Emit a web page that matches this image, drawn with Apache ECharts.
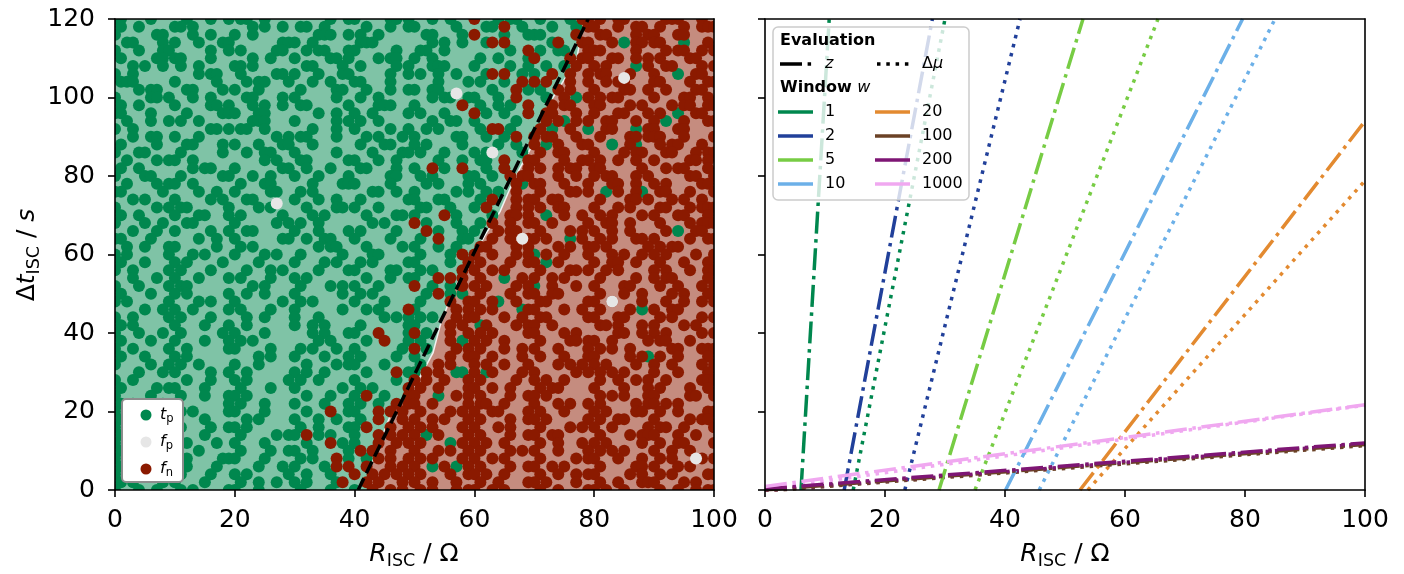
<!DOCTYPE html>
<html>
<head>
<meta charset="utf-8">
<script src="https://cdn.jsdelivr.net/npm/echarts@6/dist/echarts.min.js"></script>
<style>
  html, body { margin: 0; padding: 0; background: #fff; }
  #chart { width: 1404px; height: 574px; }
</style>
</head>
<body>
<div id="chart"></div>
<script>
// ---- left panel: classified samples on the R / dt lattice ----
// one string per dt row (120 at top, step 2), groups of 10 columns (R = 0..100)
// g = t_p, r = f_n, . = empty
const scatterRows = [
  "gg....g... ..g...g..g .gg..g.... ......g..g g.....gg.g ...g..g... r...g.gg.. .g....g.rr .r..rr.... ..rrr...r. .",
  ".g..g..... gg.g...... ...g.g..g. .gg..g.... ..g...g..g g......g.. ..gg.r..g. ...g...g.r r...r..rr. .r...r..rr r",
  "g......gg. ...g..g... g..g...... ....ggg..g .g..g..... ..gg....g. r....g...g gg.....r.. .rr....r.r r...rr.... .",
  "..gg....g. g...g...gg ........gg g..g...... .ggg...... ...g.g..g. ..gr.r.... ...gr...rr ...r.g.rr. rr...g...r .",
  "g...g...gg ......g..g .g.....gg. ..g.gg...g g......g.. .gg..g.... ......g..r .g..gg...r rr.....r.. ..r.rr..r. r",
  ".g.....gg. gg....g... ...g..g... g.....gg.g ....g.gg.. g..g...... .g..g....g r.....r.rr ...rr..r.r .r....rr.. .",
  "...g.g..g. .g..g..... gg.g...... ..gg....g. .g.....g.g ...ggg.... g.....g..g ..g..g.r.. r.r....g.r ..rr....r. r",
  "g..g...... ....g.gg.. .g.....gg. g...g...gg ......g..g .g..g..g.. ..gr.r..g. g..r..r..r .rr...r... r...g..rr. .",
  ".ggg...... g......g.. ..g.gg...g ...g..g... gg....g... ....g....g .g...g..r. r.r...r..r ..r.rr.... rr....r..r r",
  "....g.gg.. ..gg....g. g...g..... .g.....gg. ..g...g..g g..gg..... ...g...r.g .g..r.r... r....rr..r ..r....rr. .",
  "g.....gg.g ...g..g... ..gg....g. g......g.. .g..g..... ...g.gg..g g...g..r.. ..g..r.g.r .r.rr..... r....rr..r .",
  ".g..g..... g.....gg.g ...g.g..g. .gg......g ....ggg... g.......r. .g..g.g..r ...r.rr... rr....r.r. ...r.rr..r r",
  "gg....g... ..g.....gg g...gg.... ....g..g.. g..g.....g .g...g.... r.g..g...r ..rr...r.. r...rr...r .r..g..rr. .",
  "..g...g..g .g..g..... ...ggg.... g......g.g .g..g..... ...g..gg.. g......g.. ..r.rg.r.r ..rr...r.. r.g..r...r r",
  "g..g...... ......gg.g .gg..g.... ...g...g.. g.....g..g ..g.g..... .g.rr.g... .r.g..r..g ..rr...g.r r...rr.... .",
  "...g..gg.. g...g..... .......g.g .gg....g.. ..g.g...g. g......gg. ..g..g.r.. r.rr...r.. .r....rr.r rr...r.... r",
  ".g.....g.. ..gg....g. g...g...gg ...g...... .g...gg... g.g.....g. ....g..g.. r.g.r...rr ...g..rg.. .r.rr...r. .",
  "g...gg.... .g......g. ..g..gg... g......g.. ...g....gg .g...g.... g.g.....g. .r..rr.... r....r.rr. ..rr...r.r r",
  "..g....g.g g..g...... .....g.g.. .gg......g g...g..g.. ....g...g. .gg..r...r r....r..rr .r..r..r.. r.....rr.r .",
  ".g..g..... ...g.gg... g.......gg ..g...g... .gg....g.. g..r.g..r. ..g..r...r .r..r.rr.. rr......r. ..r.rr...r .",
  "g....gg... .g......gg ...g..g... g...g....g ......gg.. .g.g.....g g..g..r.rr ....r..r.. r.rr...r.r ......rr.. r",
  "..g....g.g g..g...... .g...gg... ...g....gg g.....g... ..g.g....g .g.....rg. rr...r...r ...rr..r.. r.r.....rr .",
  "gg......g. ....g..g.. g.....gg.. .g.g...... ...gg..g.. g......g.g ..g.g..r.. .r....rr.r ..g.r..rg. .rr...r... r",
  "...g.g.... g.....g.g. ..gg...... g...g..g.. .g.......g g...gg.... .g.r...r.r r..rr..... .r....rr.r ...r.r..r. .",
  "g......g.g .gg......g ....g.g... ..g....gg. g...g..... .gg...g... g.r....r.r .r..rr.... r...r.r... .rr...r.rr r",
  ".g..g..... g...gg...g .g......g. ...g.g.... ..g....gg. g....r.g.. ...g..rr.r ..g..r..r. .r.r....r. r...rr...r .",
  "g....g..g. ..gg...... g......g.g .g..g..... ...g.g.... r.g....g.. .g.r..r..r r..r.....r ..rr..r... .r....r.rr r",
  "...g...g.. g.....g..g ..gg...... g...g....g .g.....g.. ..r.g...g. g...r.rr.. .r....r.r. r..r..r... ..r.g..rr. .",
  "gg....g... ....g..g.. g.......gg ..g..gg... g.....g... .g..r...gg ...r..r..r r.r...g.r. .r.r...rr. r.....r..r r",
  "..g..g...g g......g.. .g.g...... ....g.gg.. ..g.....g. g...g..g.. .rr....r.r ....r.r..r r.r......r .r.rr..... .",
  "g.g......g ...g.g.... g....g.g.. .g......g. ...gg..... .g....g.r. r..r...r.r g.r..r...r ...r.r..r. r.r....r.. r",
  ".g...g.... g.g.....g. ....g..... g....g.g.. .g.g.....g g.....g..r .r....r..r r.g.r..... r..rr..r.. .r...r...r .",
  "g..g.....g .g....g... ..g...g.g. ....g....g g.....gg.. .g.g....r. r..r.r.... .r....rr.r ..r.r..... r.r...r..r r",
  "...g...g.. g...g....g .g....g... g.g....... ..g...g..g g...r.r.r. .r...g..r. r..r.r.... .r.....r.. r.rr.....r .",
  "g...g....g .gg....... ...g.g.... .g....g.g. g...g..... r..g..g.r. r.r....r.r g..r...r.. r....rr... .r..r...r. r",
  ".g....g... g.g......g ..g..g.... g.......g. .g.g...... ..g.r.g.g. .r....r..r r..rr..... .r...r..r. ...r.r...r .",
  "g.g......g ....g.g... g.......g. .g.g...... g....g.... .g....r..r r..rg..r.. .rr......r r..r....r. ..r..r..r. r",
  ".....g..g. g..g.....g .g....g... g.......g. ..g.g....r g......r.r .r.r....gr r....r..r. .r....r.g. r..rr..... .",
  "g..g.....g .g....g... ..g..g.... g...g..... .....g.g.g .g.g...r.r r....r..r. .rr......r r...rr.... .r.r....r. r",
  ".g.g...... g....g...g ..g....... g..g.g.... .g.......g g.....r.r. .gr....r.r r..r...... .rr.r...r. r....r.r.. .",
  "g...g...g. .g......g. g....g.... ...g.g...g g...r....g r.g...r..r .r.r.....r r....r.r.. ....rr..r. r.r.....r. r",
  ".g....g... g....g...g .g.g...... ....g.g... ..g..r...g .g....r.g. r.r..r.... .r....rr.r r..r.....r .rr...r... .",
  "g..g.....g ..g......g g.....g... .g.g...g.. g.......g. r.g....r.r .r...r..r. r...r....r .r.r..r... ...rr...rr r",
  ".g...g.... g.g....... ....g.g... g....g...g .g.....g.. g.....r..r r..r....r. .r...r...r r.....r.rg .r..r....r .",
  "g.....g..g .g..g..... g...g..... ..g....g.g g....g.... .g..r.r... r.r..r...r ....r.r.r. r.r....r.. r..r....r. r",
  "....g...g. g.....g..g ..g....... g.g..g.... ..g....r.g g.r.r..gg. r.gr....r. r......r.r .r.r.r.... r...r....r .",
  "g..g...... ..g...g... g.g......g .g..g..... g......g.. r.r..r...r .r.....r.. r.r..r.... .r..r..r.r ..r.....rr r",
  ".g.....g.g g....g.... .g....g... g.......g. .g.g.....r .r..r....r r..r..r... .r.rr..... r....r...r .r....r..r .",
  "g.....g... .g...g...g g.g....... ..g...g... g.r..g...r r...g..r.r .r....r..r r.r....... .r.r.r...r r.....rr.. r",
  ".g.g....g. g........g .g...g.... g....g...g .g..g..r.r r..r.....r .rr..r.... r...r.r..r .r.....r.r r.r.r..... .",
  "g...g..... .g.g.....g g....g.... ..g...r..g g...r.r.r. .r....r.r. r..rr....r .r...r.... r.r....rr. .r..r....r r",
  ".g....g..g g....g.... ..g.g..... g...g..g.. .g..r...r. r..r.r...r .r....r..r r.r......r .r..rr.... r.....r.rr .",
  "g..g...... .g....g..g g.g....... .g..g....g g.r...r..r .r.r....r. r...r.r... .r....r.r. r..r.....r .rr..r.... r",
  ".g.g.....g g....g.... .g.....g.g g.r.g.g... g...r.r.r. r.g.r....r .r....r..r r..rr..... .r....r.rr r...r..r.. .",
  "g...g..... .gg....g.. g....g.... ..g...r.g. g...r..r.r .r....g.r. r.r..r.... .r..r...r. r.r.....r. .r..rr.... r",
  ".g.g....g. g...g..... .g....g..g g..g.....g .r.r..r... r...r.r..r .r....r.r. r...r....r .r.r.r.... r..r..r... .",
  "g.g...g... ..g.....gg g....g.... .g.g...r.g ..g.r.r..r .r.r....r. r..r.r.... .r.....r.r r...r...r. .r.r....r. r",
  ".g..g....g g.g....g.. ....g...g. g....g.r.r ..r...r.r. r..g.r.g.r .r....r..r r..r.r.... .r.....rr. r...r.r... .",
  "g..g...g.. .g....g... g.g......g ..g...g... r..r.r.r.r .r....r..r r.r..r.... .r..r..r.r r.....r.r. .r.r.....r r",
  ".g.g....g. g....g.... .g..g..g.. g.g....gr. ..r.r...r. r..r...r.. .r..r....r r.r....r.. .r..r...rr r....r.r.. .",
  "g...g..g.. .g.g.....g g...g..... .g....g... g..r..r.r. .r.r...r.r r..r.r.... .r..r....r r.r..r.... .r..r..r.r r"
];
// false positives
const fpPoints = [[27, 73], [57, 101], [63, 86], [68, 64], [83, 48], [85, 105], [97, 8]];
// decision region boundary (R, dt)
const boundaryR = [42.3, 42.6, 46.5, 48.7, 51, 53.1, 54.3, 56.5, 60.1, 61.8, 64.3, 66, 67.6, 70.1, 71.5, 72.3, 75.6, 77.1, 78.3];
const boundaryT = [0, 6, 21, 23, 29, 35, 42, 51, 60, 65, 71, 77, 82, 89, 95, 98, 106, 110, 120];
// dashed z threshold line
const thresholdLine = [[40.6, 0], [79, 120]];

// ---- right panel: threshold lines per window ----
const windows = ['1', '2', '5', '10', '20', '100', '200', '1000'];
const windowColors = ['#00874e', '#21409a', '#77cc44', '#6cb0e8', '#e38a30', '#6b4226', '#7e1674', '#f0a8f0'];
const zLines = [
  [[6.0, 0], [10.7, 120]], [[13.2, 0], [27.9, 120]], [[29.0, 0], [53.0, 120]], [[40.1, 0], [79.6, 120]],
  [[52.5, 0], [100, 94]], [[0, 0], [100, 11.6]], [[0, 0.3], [100, 12.0]], [[0, 0.9], [100, 21.7]]
];
const muLines = [
  [[14.7, 0], [30.0, 120]], [[23.3, 0], [42.5, 120]], [[35.0, 0], [65.5, 120]], [[45.7, 0], [85.0, 120]],
  [[53.8, 0], [100, 78.8]], [[0, -0.3], [100, 11.3]], [[0, -0.1], [100, 11.8]], [[0, 0.1], [100, 21.6]]
];

const tpColor = '#00874e', fpColor = '#e6e6e6', fnColor = '#8b1a00';
const FONT = 'DejaVu Sans';

const tpPoints = [], fnPoints = [];
scatterRows.forEach((row, i) => {
  const t = 120 - 2 * i;
  row.split(' ').forEach((grp, gi) => {
    for (let k = 0; k < Math.min(grp.length, 10); k++) {
      const r = gi * 10 + k;
      if (grp[k] === 'g') tpPoints.push([r, t]);
      else if (grp[k] === 'r') fnPoints.push([r, t]);
    }
  });
});

const chart = echarts.init(document.getElementById('chart'));

function xAx(grid, pos, labels) {
  return {
    gridIndex: grid, type: 'value', min: 0, max: 100, interval: 20, position: pos, z: 10,
    axisLine: { show: true, onZero: false, lineStyle: { color: '#000', width: 1.6 } },
    axisTick: { show: labels, length: 7, lineStyle: { color: '#000', width: 1.6 } },
    axisLabel: { show: labels, fontFamily: FONT, fontSize: 25, color: '#000', margin: 18 },
    splitLine: { show: false }
  };
}
function yAx(grid, pos, ticks, labels) {
  return {
    gridIndex: grid, type: 'value', min: 0, max: 120, interval: 20, position: pos, z: 10,
    axisLine: { show: true, onZero: false, lineStyle: { color: '#000', width: 1.6 } },
    axisTick: { show: ticks, length: 7, lineStyle: { color: '#000', width: 1.6 } },
    axisLabel: { show: labels, fontFamily: FONT, fontSize: 25, color: '#000', margin: 20 },
    splitLine: { show: false }
  };
}

// axes: x 0 = left bottom, 1 = left top, 2 = right bottom, 3 = right top
//       y 0 = left left,   1 = right left, 2 = left right, 3 = right right
const series = [];
series.push({
  type: 'custom', xAxisIndex: 0, yAxisIndex: 0, z: 1, silent: true, data: [0],
  renderItem: (params, api) => {
    const bnd = boundaryR.map((r, i) => api.coord([r, boundaryT[i]]));
    const green = [api.coord([0, 0])].concat(bnd, [api.coord([0, 120])]);
    const red = bnd.concat([api.coord([100, 120]), api.coord([100, 0])]);
    return {
      type: 'group', children: [
        { type: 'polygon', shape: { points: green }, style: { fill: 'rgba(0,135,78,0.5)' } },
        { type: 'polygon', shape: { points: red }, style: { fill: 'rgba(139,26,0,0.5)' } },
        { type: 'polyline', shape: { points: bnd }, style: { stroke: '#f2f2f2', lineWidth: 1.5, fill: null } }
      ]
    };
  }
});
[[tpPoints, tpColor], [fnPoints, fnColor], [fpPoints, fpColor]].forEach(([d, c]) => {
  series.push({
    type: 'scatter', xAxisIndex: 0, yAxisIndex: 0, data: d, symbolSize: 12, clip: false,
    itemStyle: { color: c, opacity: 1 }, z: 2, silent: true
  });
});
series.push({
  type: 'line', xAxisIndex: 0, yAxisIndex: 0, data: thresholdLine, symbol: 'none', z: 4,
  lineStyle: { color: '#000', width: 3.5, type: [13, 5.6] }, silent: true
});
// dotted (delta mu) lines under the dash-dot (z) lines
windows.forEach((w, i) => {
  series.push({
    type: 'line', xAxisIndex: 2, yAxisIndex: 1, data: muLines[i], symbol: 'none', z: 3,
    lineStyle: { color: windowColors[i], width: 3.5, type: [3.5, 5.8] }, silent: true
  });
});
windows.forEach((w, i) => {
  series.push({
    type: 'line', xAxisIndex: 2, yAxisIndex: 1, data: zLines[i], symbol: 'none', z: 3,
    lineStyle: { color: windowColors[i], width: 3.5, type: [22, 5.6, 3.5, 5.6] }, silent: true
  });
});

const rich = {
  n: { fontFamily: FONT, fontSize: 25, color: '#000' },
  i: { fontFamily: FONT, fontSize: 25, fontStyle: 'italic', color: '#000' },
  s: { fontFamily: FONT, fontSize: 17.5, color: '#000', padding: [14, 0, 0, 0] }
};
const lrich = {
  i: { fontFamily: FONT, fontSize: 16, fontStyle: 'italic', color: '#000' },
  s: { fontFamily: FONT, fontSize: 11.5, color: '#000', padding: [9, 0, 0, 0] }
};
function txt(x, y, text, r, extra) {
  return Object.assign({
    type: 'text', x: x, y: y, z: 30,
    style: { text: text, rich: r || undefined, fontFamily: FONT, fontSize: 16, fill: '#000',
      align: 'left', verticalAlign: 'middle', textAlign: 'left', textVerticalAlign: 'middle' }
  }, extra || {});
}
function ctxt(x, y, text, extra) {
  return Object.assign({
    type: 'text', x: x, y: y, z: 30,
    style: { text: text, rich: rich, fill: '#000',
      align: 'center', verticalAlign: 'middle', textAlign: 'center', textVerticalAlign: 'middle' }
  }, extra || {});
}
function hline(x1, x2, y, color, dash) {
  const st = { stroke: color, lineWidth: 3.5 };
  if (dash) st.lineDash = dash;
  return { type: 'line', z: 30, shape: { x1: x1, y1: y, x2: x2, y2: y }, style: st };
}

const graphic = [
  // clip the scatter markers at the frame like the original
  { type: 'rect', z: 5, shape: { x: 104, y: 6, width: 622, height: 13 }, style: { fill: '#fff' } },
  { type: 'rect', z: 5, shape: { x: 104, y: 490, width: 622, height: 9 }, style: { fill: '#fff' } },
  { type: 'rect', z: 5, shape: { x: 104, y: 6, width: 11, height: 493 }, style: { fill: '#fff' } },
  { type: 'rect', z: 5, shape: { x: 714, y: 6, width: 12, height: 493 }, style: { fill: '#fff' } },
  // axis names
  ctxt(27, 255, '{n|Δ}{i|t}{s|ISC}{n| / }{i|s}', { rotation: Math.PI / 2 }),
  ctxt(414, 554, '{i|R}{s|ISC}{n| / Ω}'),
  ctxt(1065, 554, '{i|R}{s|ISC}{n| / Ω}'),
  // left legend
  { type: 'rect', z: 20, shape: { x: 122, y: 399, width: 61, height: 83, r: 4 }, style: { fill: '#fff', stroke: '#8c8c8c', lineWidth: 2 } },
  { type: 'circle', z: 30, shape: { cx: 146, cy: 415, r: 5.5 }, style: { fill: tpColor } },
  { type: 'circle', z: 30, shape: { cx: 146, cy: 442, r: 5.5 }, style: { fill: fpColor } },
  { type: 'circle', z: 30, shape: { cx: 146, cy: 469, r: 5.5 }, style: { fill: fnColor } },
  txt(160, 415, '{i|t}{s|p}', lrich),
  txt(160, 442, '{i|f}{s|p}', lrich),
  txt(160, 469, '{i|f}{s|n}', lrich),
  // right legend
  { type: 'rect', z: 20, shape: { x: 773, y: 27, width: 196, height: 173, r: 5 }, style: { fill: 'rgba(255,255,255,0.8)', stroke: '#cccccc', lineWidth: 1.5 } },
  txt(780, 41, '{b|Evaluation}', { b: { fontFamily: FONT, fontSize: 16, fontWeight: 'bold', color: '#000' } }),
  hline(780, 815, 64, '#000', [22, 5.6, 3.5, 5.6]),
  txt(825, 64, '{i|z}', lrich),
  hline(877, 912, 64, '#000', [3.5, 5.8]),
  txt(922, 64, '{n|Δ}{i|μ}', { n: { fontFamily: FONT, fontSize: 16, color: '#000' }, i: lrich.i }),
  txt(780, 88, '{b|Window }{i|w}', { b: { fontFamily: FONT, fontSize: 16, fontWeight: 'bold', color: '#000' }, i: lrich.i })
];
windows.forEach((w, i) => {
  const col = Math.floor(i / 4), row = i % 4;
  const x0 = col === 0 ? 778 : 875;
  const y = 112 + row * 24;
  graphic.push(hline(x0, x0 + 35, y, windowColors[i]));
  graphic.push(txt(x0 + 47, y, w, null));
});

chart.setOption({
  animation: false,
  backgroundColor: '#fff',
  grid: [
    { left: 115, top: 19, width: 599, height: 471, containLabel: false, outerBoundsMode: 'none' },
    { left: 765, top: 19, width: 600, height: 471, containLabel: false, outerBoundsMode: 'none' }
  ],
  xAxis: [xAx(0, 'bottom', true), xAx(0, 'top', false), xAx(1, 'bottom', true), xAx(1, 'top', false)],
  yAxis: [yAx(0, 'left', true, true), yAx(1, 'left', true, false), yAx(0, 'right', false, false), yAx(1, 'right', false, false)],
  series: series,
  graphic: graphic
});
</script>
</body>
</html>
